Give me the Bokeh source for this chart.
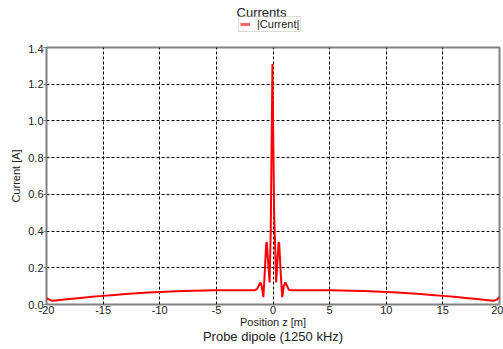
from bokeh.plotting import figure
from bokeh.layouts import column
from bokeh.models import Legend, LegendItem, Title, PrintfTickFormatter, FixedTicker, Range1d, Label
from bokeh.embed import file_html
from bokeh.resources import INLINE

z_pos = [-20.0, -19.8, -19.5, -19.2, -18.0, -17.0, -16.0, -15.0, -14.0, -13.0, -12.0, -11.0,
         -10.0, -9.0, -8.0, -7.0, -6.0, -5.0, -4.0, -3.0, -2.0, -1.6, -1.4, -1.2, -1.1, -1.0,
         -0.85, -0.75, -0.6, -0.55, -0.45, -0.3, -0.2, -0.05, 0.1, 0.28, 0.4, 0.5, 0.55, 0.7,
         0.82, 0.95, 1.1, 1.25, 1.4, 1.6, 2.0, 3.0, 4.0, 5.0, 6.0, 7.0, 8.0, 9.0, 10.0, 11.0,
         12.0, 13.0, 14.0, 15.0, 16.0, 17.0, 18.0, 19.2, 19.5, 19.8, 20.0]
current = [0.035, 0.028, 0.020, 0.022, 0.030, 0.036, 0.042, 0.047, 0.052, 0.057, 0.061, 0.065,
           0.068, 0.071, 0.073, 0.075, 0.076, 0.077, 0.078, 0.078, 0.077, 0.078, 0.085, 0.110, 0.120, 0.100,
           0.040, 0.150, 0.330, 0.340, 0.250, 0.120, 0.400, 1.310, 0.500, 0.120, 0.250, 0.340, 0.330, 0.150,
           0.040, 0.100, 0.120, 0.100, 0.080, 0.077, 0.078, 0.078, 0.078, 0.077, 0.076, 0.075, 0.073, 0.071, 0.068, 0.065,
           0.061, 0.057, 0.052, 0.047, 0.042, 0.036, 0.030, 0.022, 0.020, 0.028, 0.040]

x_ticks = [-20, -15, -10, -5, 0, 5, 10, 15, 20]
y_ticks = [0.0, 0.2, 0.4, 0.6, 0.8, 1.0, 1.2, 1.4]

FONT = "Liberation Sans"
TXT = "#222222"
W = 503
H_HEAD = 44
H_MAIN = 305

# ---- header: title + legend ----
h = figure(width=W, height=H_HEAD, output_backend="svg", toolbar_location=None, title=None,
           x_axis_type=None, y_axis_type=None, x_range=Range1d(0, 1), y_range=Range1d(0, 1),
           min_border=0, min_border_left=0, min_border_right=0, min_border_top=0, min_border_bottom=0)
h.outline_line_color = None
h.grid.visible = False
swatch = h.line([0, 0], [-10, -10], line_color="#ff0000", line_alpha=0.6, line_width=3)
legend = Legend(items=[LegendItem(label="|Current|", renderers=[swatch])], location=(192, 12),
                orientation="horizontal", label_text_font=FONT, label_text_font_size="11px",
                label_text_color=TXT, label_height=10, glyph_height=10, glyph_width=10,
                padding=1, spacing=0, margin=0, border_line_color="#b8b8b8", border_line_width=1.5,
                label_standoff=7, background_fill_alpha=0)
h.add_layout(legend, "center")
h.add_layout(Label(x=215, y=32, x_units="screen", y_units="screen", text="Currents",
                   text_font=FONT, text_font_size="13px", text_color=TXT,
                   text_align="center", text_baseline="alphabetic"))

# ---- main plot ----
p = figure(width=W, height=H_MAIN, output_backend="svg", toolbar_location=None, title=None,
           x_range=Range1d(-20, 20), y_range=Range1d(0, 1.4),
           min_border_left=46, min_border_right=4, min_border_top=3, min_border_bottom=45)

p.line(z_pos, current, line_color="#ff0000", line_width=2)

p.add_layout(Title(text="Probe dipole (1250 kHz)", align="center", text_font=FONT,
                   text_font_size="13px", text_font_style="normal", text_color=TXT,
                   standoff=-8, offset=0), "below")

p.xaxis.ticker = FixedTicker(ticks=x_ticks)
p.yaxis.ticker = FixedTicker(ticks=y_ticks)
p.xaxis.formatter = PrintfTickFormatter(format="%d")
p.yaxis.formatter = PrintfTickFormatter(format="%.1f")
p.xaxis.axis_label = "Position z [m]"
p.yaxis.axis_label = "Current [A]"
for ax in (p.xaxis, p.yaxis):
    ax.axis_label_text_font = FONT
    ax.axis_label_text_font_size = "11px"
    ax.axis_label_text_font_style = "normal"
    ax.axis_label_text_color = TXT
    ax.major_label_text_font = FONT
    ax.major_label_text_font_size = "11px"
    ax.major_label_text_color = TXT
    ax.axis_line_color = None
    ax.major_tick_line_color = "#808080"
    ax.major_tick_line_width = 1
    ax.minor_tick_line_color = None
    ax.major_tick_in = 0
p.xaxis.major_tick_out = 0
p.xaxis.major_label_standoff = 1
p.xaxis.axis_label_standoff = -1
p.yaxis.major_tick_out = 3
p.yaxis.major_label_standoff = 0
p.yaxis.axis_label_standoff = 3

p.outline_line_color = "#808080"
p.outline_line_width = 2
p.grid.grid_line_color = "black"
p.grid.grid_line_dash = "3 2"
p.grid.grid_line_width = 1

layout = column(h, p, spacing=0)
open("out.html", "w").write(file_html(layout, INLINE))
